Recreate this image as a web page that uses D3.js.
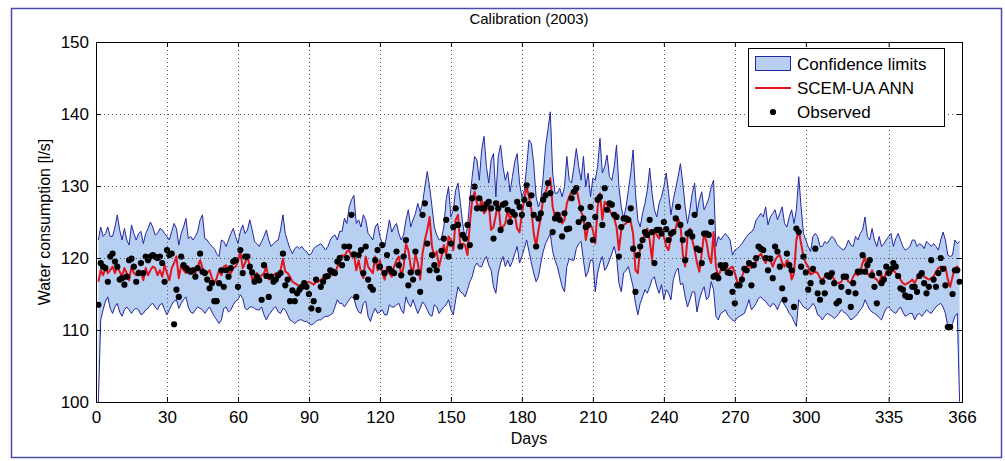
<!DOCTYPE html>
<html>
<head>
<meta charset="utf-8">
<script src="https://cdn.jsdelivr.net/npm/d3@7"></script>
<style>
  body { margin: 0; background: #fff; }
  svg { display: block; font-family: "Liberation Sans", Arial, sans-serif; }
</style>
</head>
<body>
<div id="canvas"></div>
<script>
// day numbers 1..365 of 2003
const days = d3.range(1, 366);

const xTicks = [0, 30, 60, 90, 120, 150, 180, 210, 240, 270, 300, 335, 366];
const yTicks = [100, 110, 120, 130, 140, 150];

// upper confidence limit [l/s]
const upper = [
  122.5,124.3,123.0,123.4,124.3,123.0,123.0,124.3,126.0,123.9,
  122.5,124.1,122.5,121.8,124.6,123.4,122.5,123.4,123.7,122.0,
  123.4,124.1,125.0,124.3,123.2,123.4,124.1,123.9,123.4,123.0,
  122.5,123.7,124.8,124.1,121.8,123.4,124.3,125.5,122.7,123.0,
  122.5,123.0,123.7,125.3,126.0,122.7,122.5,122.0,121.6,121.3,
  120.6,120.2,122.5,122.3,121.6,122.5,123.4,124.1,123.0,122.0,
  123.7,124.6,123.4,123.9,125.3,123.9,122.3,122.0,121.6,122.3,
  123.0,123.9,122.5,121.6,122.0,122.3,122.5,123.9,126.0,123.4,
  122.3,121.3,120.6,121.3,121.6,121.3,121.6,121.1,120.9,120.4,
  120.6,121.3,121.6,121.8,122.0,121.6,121.1,121.6,122.5,123.0,
  123.2,122.5,123.7,123.7,125.5,124.8,127.1,128.1,128.7,124.8,
  125.3,124.3,126.0,125.3,123.4,123.0,122.5,124.3,124.8,123.0,
  122.0,121.6,123.4,125.3,123.6,124.3,124.8,123.4,122.5,123.2,
  125.3,126.7,124.3,125.3,126.2,127.6,126.4,127.6,129.9,132.0,
  129.9,127.1,124.3,123.2,122.5,122.7,124.3,128.1,129.9,125.7,
  126.7,129.4,130.4,127.6,124.8,122.7,124.3,128.1,131.3,134.1,
  133.6,130.8,135.0,136.9,132.7,130.4,133.6,134.5,128.5,134.1,
  135.7,132.7,130.8,132.0,129.2,131.3,133.4,134.5,130.4,128.5,
  129.4,132.7,136.4,135.9,133.1,128.5,127.1,128.1,131.3,135.5,
  137.8,140.3,131.8,129.0,129.0,129.7,128.5,129.9,134.1,130.8,
  130.4,132.7,135.2,132.7,130.8,134.1,129.9,131.8,128.5,131.1,
  130.8,132.7,136.6,131.8,132.7,134.3,131.3,130.8,132.7,135.7,
  129.9,127.1,125.5,127.1,129.4,131.8,135.0,129.0,125.3,124.3,
  126.2,127.6,129.4,132.5,129.0,126.7,125.7,127.6,128.5,129.9,
  131.8,129.0,126.0,128.1,129.7,131.3,133.1,130.4,127.1,124.8,
  126.7,129.0,130.4,126.2,128.1,129.2,126.7,127.4,128.3,129.9,
  130.8,121.6,123.0,122.5,123.0,123.4,123.0,122.5,120.4,121.1,
  121.3,121.6,122.0,122.5,123.0,123.4,123.6,124.1,125.3,125.7,
  126.2,125.7,127.1,124.6,125.7,126.2,126.7,125.3,126.2,127.1,
  124.8,124.3,125.7,126.7,124.8,126.7,131.3,127.1,123.4,122.5,
  121.6,120.9,123.0,123.4,123.0,121.6,121.6,122.3,122.0,122.5,
  123.0,122.7,122.0,121.6,121.3,121.1,121.6,122.5,121.8,121.6,
  123.0,122.5,123.4,123.9,125.7,123.0,122.5,124.1,122.5,121.6,
  123.0,121.6,122.0,122.5,123.0,123.4,121.6,122.7,123.4,122.5,
  121.6,121.1,121.3,121.6,122.5,122.5,121.6,122.0,121.8,121.3,
  122.3,122.0,121.6,122.0,121.6,121.1,122.5,123.6,122.5,120.4,
  120.2,120.4,122.5,122.0,122.3
];

// lower confidence limit [l/s]
const lower = [
  100.0,111.4,112.8,114.0,114.6,113.0,112.3,113.2,113.7,112.5,
  111.9,112.8,113.2,112.8,112.3,112.8,113.0,112.8,112.1,112.3,
  112.8,113.0,113.5,113.7,113.2,112.8,113.5,113.7,112.8,112.1,
  112.8,113.5,114.0,114.2,113.0,113.7,114.2,114.6,113.2,112.5,
  112.3,112.8,113.2,113.0,112.8,112.3,112.8,113.2,112.5,111.9,
  111.4,110.9,111.4,113.0,113.2,112.5,112.8,113.5,114.0,114.2,
  114.9,114.4,113.0,112.8,113.2,113.2,113.0,112.8,112.8,113.2,
  112.1,111.4,112.1,112.5,113.0,113.2,112.5,112.3,113.0,112.8,
  112.1,111.4,111.2,110.9,111.2,111.4,111.4,111.2,111.2,110.9,
  110.7,110.9,111.2,111.4,111.4,111.7,111.9,111.9,112.1,112.3,
  113.2,114.2,113.7,113.7,113.2,113.7,114.2,114.6,114.4,113.2,
  112.5,112.3,113.7,114.0,111.9,111.2,112.3,113.0,112.3,112.5,
  112.8,112.1,112.1,113.5,113.2,113.2,113.5,113.7,112.8,112.3,
  114.6,113.7,113.2,114.2,113.2,112.3,113.0,113.9,113.5,112.8,
  112.1,111.9,113.5,113.2,112.3,112.8,113.2,113.5,114.2,112.8,
  112.1,114.2,116.0,115.3,115.1,114.6,115.6,116.7,117.4,118.8,
  119.3,118.8,118.8,119.7,120.2,119.0,118.3,116.0,115.1,117.9,
  119.3,120.2,118.8,119.7,118.8,119.5,120.6,121.6,119.3,120.2,
  121.3,122.5,120.9,119.3,117.9,116.7,117.4,119.3,120.9,122.0,
  122.7,123.4,120.9,119.7,118.8,117.4,116.0,115.3,118.8,119.9,
  119.7,119.7,121.3,122.0,122.3,119.7,117.4,118.1,119.7,119.7,
  115.3,117.9,119.3,120.2,118.3,118.8,119.7,120.6,121.6,120.2,
  116.5,115.3,117.9,118.3,118.8,117.4,116.0,113.7,112.1,113.7,
  114.6,115.6,115.1,116.0,117.0,117.4,116.0,115.1,116.3,114.2,
  115.6,115.1,114.2,117.0,118.1,118.6,116.3,116.5,114.6,113.2,
  114.2,115.3,115.3,112.5,114.2,115.3,116.0,114.2,114.6,116.7,
  115.6,111.9,111.4,112.3,112.5,112.8,112.1,111.7,111.4,111.2,
  111.7,111.9,112.1,112.3,113.2,114.2,112.8,113.2,113.7,114.4,
  114.6,114.2,114.0,113.5,113.2,113.7,113.5,112.8,113.7,114.2,
  113.5,113.0,112.3,111.9,111.2,110.5,114.2,113.7,113.2,113.0,
  112.8,113.2,113.7,113.2,112.1,111.9,111.4,111.9,112.3,112.1,
  111.9,111.6,111.9,112.3,112.8,112.5,112.3,111.9,111.4,111.6,
  111.9,112.3,112.8,113.2,114.2,113.5,112.8,112.5,112.3,112.1,
  111.7,111.4,112.3,113.0,113.2,112.8,112.5,112.3,112.8,113.2,
  112.5,111.9,112.1,112.3,112.3,111.4,112.1,112.3,111.9,112.3,
  112.8,112.5,112.3,112.8,113.2,113.5,113.7,113.2,112.3,110.5,
  110.0,110.9,111.9,112.3,100.0
];

// SCEM-UA ANN prediction [l/s]
const model = [
  116.7,118.3,117.6,118.6,117.9,118.3,118.8,117.9,118.8,118.1,
  117.4,118.6,117.9,116.9,118.8,117.9,117.6,118.3,118.1,116.9,
  118.6,117.6,118.3,118.8,118.6,117.6,118.3,117.4,119.0,117.9,
  116.9,118.6,119.3,120.2,117.2,119.0,118.3,117.9,118.8,118.3,
  118.6,117.9,118.8,119.7,118.6,118.1,117.9,118.3,117.2,116.5,
  117.2,118.3,117.6,118.8,119.0,118.1,117.9,118.6,118.8,119.5,
  120.9,118.6,119.3,120.2,118.8,117.0,117.4,117.9,117.2,117.6,
  117.9,118.8,117.0,117.4,117.6,117.9,117.6,118.3,119.9,118.1,
  117.9,117.4,116.7,116.5,116.3,116.0,116.3,116.3,116.5,116.7,
  116.5,116.3,116.7,116.7,117.0,117.2,117.6,117.6,117.9,117.6,
  117.9,118.8,119.3,120.4,120.2,120.9,121.1,120.2,120.6,118.3,
  119.7,117.9,117.2,120.2,118.8,118.3,117.9,120.2,118.3,119.7,
  117.9,117.0,118.8,117.9,117.4,118.8,119.7,120.2,117.4,118.8,
  122.0,121.1,118.8,117.9,120.6,119.3,117.0,120.6,122.5,123.9,
  125.7,121.6,120.2,120.9,118.8,120.2,121.8,120.4,123.0,122.5,
  121.1,125.3,126.0,121.6,122.0,121.8,120.4,124.8,128.1,129.2,
  127.6,126.9,128.1,126.2,126.7,127.4,123.9,124.3,126.0,127.8,
  124.3,124.3,124.8,126.7,125.3,126.2,126.0,124.1,123.6,126.2,
  128.1,129.9,128.5,126.7,123.4,121.6,123.9,125.7,128.3,129.2,
  130.1,131.1,127.1,125.7,125.5,126.2,124.8,125.3,127.6,128.5,
  129.2,129.4,129.7,128.1,126.4,125.7,122.5,124.3,124.6,123.9,
  122.0,127.1,129.0,125.3,127.8,127.4,126.7,126.0,125.5,124.3,
  121.1,123.9,124.6,124.8,125.7,125.0,123.4,118.3,117.9,121.6,
  122.5,123.6,124.1,122.5,119.7,123.9,123.2,122.7,124.1,123.0,
  121.6,121.1,123.0,123.4,124.1,125.5,124.6,120.6,118.8,123.0,
  124.1,122.5,121.1,119.3,118.1,120.6,123.4,122.3,120.2,119.3,
  123.6,118.8,117.4,118.3,118.6,118.8,118.3,118.6,118.8,117.9,
  116.7,116.5,117.4,118.3,118.8,119.0,118.6,119.0,119.5,120.2,
  120.6,119.9,119.3,120.2,119.7,118.8,119.7,120.2,120.4,119.3,
  118.8,119.7,119.3,117.0,117.9,122.5,123.9,122.0,120.2,119.3,
  118.8,117.7,117.9,118.1,117.9,117.2,117.0,117.4,117.6,117.4,
  117.6,117.0,116.5,116.5,116.7,117.6,117.4,116.7,116.5,117.4,
  117.9,117.6,118.1,119.3,120.2,117.9,117.4,118.3,117.2,117.0,
  116.5,117.6,117.0,118.1,118.3,117.9,118.3,117.9,117.6,117.0,
  116.5,116.3,116.5,116.7,117.0,116.5,117.2,117.9,118.1,117.4,
  117.2,117.0,117.2,117.4,118.1,118.6,118.8,118.3,118.8,117.0,
  116.0,117.4,118.6,118.8,118.3
];

// observed water consumption [l/s]
const observed = [
  113.5,119.3,118.8,118.6,116.7,120.2,120.6,119.5,118.8,117.0,
  117.2,116.3,117.4,119.7,119.9,118.8,116.7,117.9,119.3,117.9,
  120.2,119.7,120.2,120.4,120.2,120.0,120.2,119.3,116.7,121.1,
  120.4,120.6,110.8,115.6,114.6,120.2,119.0,118.6,118.3,118.1,
  118.3,117.4,118.6,120.6,118.1,117.9,117.0,115.8,116.5,114.0,
  114.0,116.5,118.3,116.0,118.3,117.4,118.6,119.5,119.7,116.0,
  121.1,117.9,120.2,120.2,118.8,118.0,116.7,117.4,116.9,114.2,
  119.0,117.5,114.6,117.4,116.7,117.0,117.6,117.9,120.6,116.2,
  117.0,114.0,115.5,114.0,115.1,115.6,116.0,116.5,116.0,115.0,
  113.0,114.0,117.0,112.8,116.0,116.7,117.4,117.5,118.3,118.1,
  117.9,119.5,120.0,119.0,121.6,120.0,121.6,126.0,120.5,114.6,
  120.4,121.1,117.9,121.6,117.0,116.0,115.6,119.7,121.1,118.8,
  121.8,117.9,120.4,118.5,118.1,117.9,120.9,119.0,117.6,120.2,
  122.5,116.2,118.0,117.0,120.9,118.0,115.3,126.0,127.6,122.0,
  118.3,120.4,119.0,118.3,117.2,121.0,122.7,125.3,120.2,122.0,
  124.3,126.9,124.6,121.6,123.2,122.7,124.6,121.8,128.3,129.9,
  126.9,128.3,126.9,126.9,127.5,127.8,126.9,122.7,127.6,126.9,
  123.9,127.4,127.6,126.7,125.0,126.4,126.0,127.8,127.1,126.0,
  128.1,130.1,127.5,128.7,126.0,121.6,125.5,126.2,128.1,128.7,
  130.4,129.0,123.6,125.5,126.0,125.3,123.0,126.2,124.0,124.1,
  128.3,129.2,129.7,125.0,126.9,125.5,124.3,124.6,127.1,122.5,
  125.7,128.1,128.5,124.6,129.7,126.7,127.6,127.4,126.0,125.7,
  120.2,124.3,125.5,125.5,125.3,126.9,121.3,115.3,120.4,121.6,
  122.5,123.6,123.2,125.3,123.6,119.3,123.9,123.9,123.4,125.0,
  124.0,122.5,123.4,123.6,125.5,127.1,124.6,122.5,119.7,123.4,
  123.6,123.0,126.0,121.3,121.1,119.3,123.4,123.4,123.2,125.0,
  117.4,117.6,117.2,119.0,118.6,119.0,118.0,117.9,115.3,113.7,
  116.2,116.2,117.0,118.5,118.3,119.3,116.2,119.0,120.0,121.6,
  121.3,121.1,120.0,118.3,119.9,117.2,121.6,120.9,118.8,115.8,
  114.2,120.6,119.0,118.3,113.2,124.1,123.6,118.8,120.2,118.0,
  115.6,116.5,118.5,121.3,115.1,114.2,116.7,115.1,117.6,117.4,
  117.9,116.5,113.7,114.0,116.0,117.4,117.4,115.3,113.2,116.5,
  115.1,118.1,118.1,120.4,118.1,119.0,119.7,117.6,116.0,113.7,
  117.9,116.5,117.0,118.8,117.9,118.5,119.3,118.8,117.5,115.8,
  115.6,114.8,114.6,114.6,116.0,116.0,115.3,117.5,117.9,116.5,
  115.1,116.0,119.7,117.0,116.0,117.9,120.0,118.5,116.2,110.4,
  110.4,115.0,118.3,118.3,116.7
];

const legendLabels = ['Confidence limits', 'SCEM-UA ANN', 'Observed'];

const W = 1005, H = 461;
const margin = { top: 42, right: 43, bottom: 59, left: 96 };
const width = W - margin.left - margin.right;
const height = H - margin.top - margin.bottom;

const bandFill = '#b7d0f2';
const bandEdge = '#2626a0';
const red = '#e3141b';

const root = d3.select('#canvas').append('svg')
  .attr('width', W)
  .attr('height', H);

// figure frame
root.append('rect')
  .attr('x', 11.5).attr('y', 8.5)
  .attr('width', 990).attr('height', 449)
  .attr('fill', 'none')
  .attr('stroke', '#4a4aa8')
  .attr('stroke-width', 1.5);

const svg = root.append('g')
  .attr('transform', `translate(${margin.left}, ${margin.top})`);

const x = d3.scaleLinear().domain([0, 366]).range([0, width]);
const y = d3.scaleLinear().domain([100, 150]).range([height, 0]);

svg.append('clipPath').attr('id', 'plotclip')
  .append('rect').attr('width', width).attr('height', height);

const plot = svg.append('g').attr('clip-path', 'url(#plotclip)');

// confidence band
plot.append('path')
  .datum(days)
  .attr('fill', bandFill)
  .attr('stroke', 'none')
  .attr('d', d3.area()
    .x((d) => x(d))
    .y0((d, i) => y(lower[i]))
    .y1((d, i) => y(upper[i])));

const edge = (arr) => d3.line().x((d) => x(d)).y((d, i) => y(arr[i]));

plot.append('path').datum(days)
  .attr('fill', 'none').attr('stroke', bandEdge).attr('stroke-width', 1)
  .attr('d', edge(upper));
plot.append('path').datum(days)
  .attr('fill', 'none').attr('stroke', bandEdge).attr('stroke-width', 1)
  .attr('d', edge(lower));

// grid
const grid = svg.append('g')
  .attr('stroke', '#555')
  .attr('stroke-width', 1)
  .attr('stroke-dasharray', '1,3');
grid.selectAll('.gx')
  .data(xTicks.slice(1, -1))
  .enter().append('line')
  .attr('x1', (d) => Math.round(x(d)) + 0.5)
  .attr('x2', (d) => Math.round(x(d)) + 0.5)
  .attr('y1', 0).attr('y2', height);
grid.selectAll('.gy')
  .data(yTicks.slice(1, -1))
  .enter().append('line')
  .attr('y1', (d) => Math.round(y(d)) + 0.5)
  .attr('y2', (d) => Math.round(y(d)) + 0.5)
  .attr('x1', 0).attr('x2', width);

// model line
plot.append('path').datum(days)
  .attr('fill', 'none')
  .attr('stroke', red)
  .attr('stroke-width', 2)
  .attr('stroke-linejoin', 'round')
  .attr('d', edge(model));

// observations
plot.append('g')
  .selectAll('circle')
  .data(days)
  .enter().append('circle')
  .attr('cx', (d) => x(d))
  .attr('cy', (d, i) => y(observed[i]))
  .attr('r', 3.1)
  .attr('fill', '#000');

// axes
const ax = (g) => g.selectAll('.domain').remove();
svg.append('g')
  .attr('transform', `translate(0, ${height})`)
  .call(d3.axisBottom(x).tickValues(xTicks).tickSize(-5).tickPadding(9))
  .call(ax)
  .call((g) => g.selectAll('text').style('font-size', '17px').attr('fill', '#000'));
svg.append('g')
  .call(d3.axisTop(x).tickValues(xTicks).tickSize(-5).tickFormat(''))
  .call(ax);
svg.append('g')
  .call(d3.axisLeft(y).tickValues(yTicks).tickSize(-5).tickPadding(7))
  .call(ax)
  .call((g) => g.selectAll('text').style('font-size', '17px').attr('fill', '#000'));
svg.append('g')
  .attr('transform', `translate(${width}, 0)`)
  .call(d3.axisRight(y).tickValues(yTicks).tickSize(-5).tickFormat(''))
  .call(ax);

svg.append('rect')
  .attr('x', 0.5).attr('y', 0.5)
  .attr('width', width).attr('height', height)
  .attr('fill', 'none').attr('stroke', '#000').attr('stroke-width', 1);

// labels
svg.append('text')
  .attr('x', width / 2).attr('y', -18)
  .attr('text-anchor', 'middle')
  .style('font-size', '15px')
  .text('Calibration (2003)');

svg.append('text')
  .attr('x', width / 2).attr('y', height + 42)
  .attr('text-anchor', 'middle')
  .style('font-size', '16px')
  .text('Days');

svg.append('text')
  .attr('transform', 'rotate(-90)')
  .attr('x', -height / 2).attr('y', -46)
  .attr('text-anchor', 'middle')
  .style('font-size', '16px')
  .text('Water consumption [l/s]');

// legend
const lg = svg.append('g').attr('transform', `translate(${652}, ${6})`);
lg.append('rect')
  .attr('x', 0.5).attr('y', 0.5)
  .attr('width', 196).attr('height', 78)
  .attr('fill', '#fff').attr('stroke', '#000');
lg.append('rect')
  .attr('x', 7.5).attr('y', 8.5).attr('width', 35).attr('height', 14)
  .attr('fill', bandFill).attr('stroke', bandEdge);
lg.append('line')
  .attr('x1', 7).attr('x2', 43).attr('y1', 40).attr('y2', 40)
  .attr('stroke', red).attr('stroke-width', 2);
lg.append('circle')
  .attr('cx', 25).attr('cy', 64).attr('r', 3.1).attr('fill', '#000');
lg.selectAll('.lt')
  .data(legendLabels)
  .enter().append('text')
  .attr('x', 49)
  .attr('y', (d, i) => 22 + i * 24)
  .style('font-size', '17px')
  .text((d) => d);
</script>
</body>
</html>
